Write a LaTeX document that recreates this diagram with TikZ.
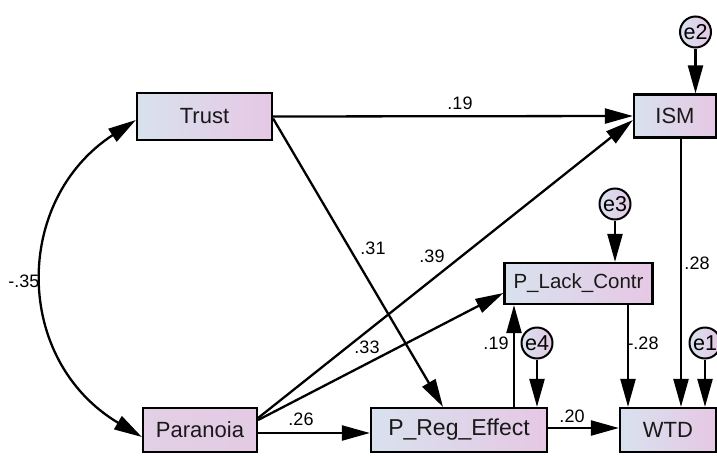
\documentclass[tikz,border=0pt]{standalone}
\usepackage{fontspec}
\setmainfont{Liberation Sans}
\usetikzlibrary{arrows.meta}
\definecolor{boxblue}{RGB}{216,225,238}
\definecolor{boxpink}{RGB}{230,200,228}
\definecolor{paraleft}{RGB}{226,208,230}
\definecolor{pararight}{RGB}{228,202,228}
\begin{document}
\begin{tikzpicture}[x=1pt,y=-1pt,
  obs/.style={draw, line width=2.2pt, left color=boxblue, right color=boxpink,
    minimum height=44pt, inner sep=0pt, text=black!90, font=\fontsize{22}{24}\selectfont},
  err/.style={circle, draw, line width=2pt, left color=boxblue, right color=boxpink,
    minimum size=31pt, inner sep=0pt, font=\fontsize{21.5}{22}\selectfont},
  reg/.style={line width=2.3pt, -{Triangle[length=28pt,width=15pt]}},
  cov/.style={line width=2.3pt, {Triangle[length=28pt,width=15pt]}-{Triangle[length=28pt,width=15pt]}},
  coef/.style={font=\fontsize{18}{20}\selectfont, inner sep=0pt},
]
\useasboundingbox (0,0) rectangle (717,455);

% observed variables
\node[obs, minimum width=135pt, minimum height=47pt] (trust) at (204.5,116.5) {Trust};
\node[obs, minimum width=82pt, minimum height=43pt] (ism) at (675,116) {ISM};
\node[obs, minimum width=148pt, minimum height=41pt, font=\fontsize{20.5}{22}\selectfont] (plc) at (578.5,283.5) {P\_Lack\_Contr};
\node[obs, minimum width=114pt, left color=paraleft, right color=pararight] (para) at (200,430) {Paranoia};
\node[obs, minimum width=176pt, font=\fontsize{23}{24}\selectfont] (preg) at (459,430) {P\_Reg\_Effect};
\node[obs, minimum width=96pt] (wtd) at (668,430) {WTD};

% error terms
\node[err] (e2) at (695.5,32) {e2};
\node[err] (e3) at (615,204) {e3};
\node[err] (e4) at (537,343) {e4};
\node[err] (e1) at (705,343) {e1};

\draw[reg] (e2) -- (e2 |- ism.north);
\draw[reg] (e3) -- (e3 |- plc.north);
\draw[reg] (e4) -- (e4 |- preg.north);
\draw[reg] (e1) -- (e1 |- wtd.north);

% regression paths
\draw[reg] (trust.east) -- (ism.west);
\draw[reg] ([yshift=-2pt]trust.east) -- ([xshift=-16pt]preg.north);
\draw[reg] ([yshift=12pt]para.east) -- ([yshift=-4pt]ism.west);
\draw[reg] ([yshift=10pt]para.east) -- ([yshift=-9.5pt]plc.west);
\draw[reg] ([yshift=-3pt]para.east) -- ([yshift=-3pt]preg.west);
\draw[reg] ([yshift=2pt]preg.east) -- ([yshift=2pt]wtd.west);

\coordinate (pr1) at ([xshift=55pt]preg.north);
\draw[reg] (pr1) -- (pr1 |- plc.south);
\coordinate (pl1) at ([xshift=49.5pt]plc.south);
\draw[reg] (pl1) -- (pl1 |- wtd.north);
\coordinate (is1) at ([xshift=6pt]ism.south);
\draw[reg] (is1) -- (is1 |- wtd.north);

% covariance
\draw[cov] ([yshift=-3.5pt]trust.west) .. controls (13,200) and (13,360) .. ([yshift=-7pt]para.west);

% coefficients
\node[coef] (c1) at (460,103) {.19};
\node[coef] (c2) at (373,248) {.31};
\node[coef] (c3) at (432,256) {.39};
\node[coef] (c4) at (367,347) {.33};
\node[coef] (c5) at (301,419) {.26};
\node[coef] (c6) at (496,343) {.19};
\node[coef] (c7) at (643,343) {-.28};
\node[coef] (c8) at (572,416) {.20};
\node[coef] (c9) at (697,263) {.28};
\node[coef] (c10) at (24,281) {-.35};
\end{tikzpicture}
\end{document}
